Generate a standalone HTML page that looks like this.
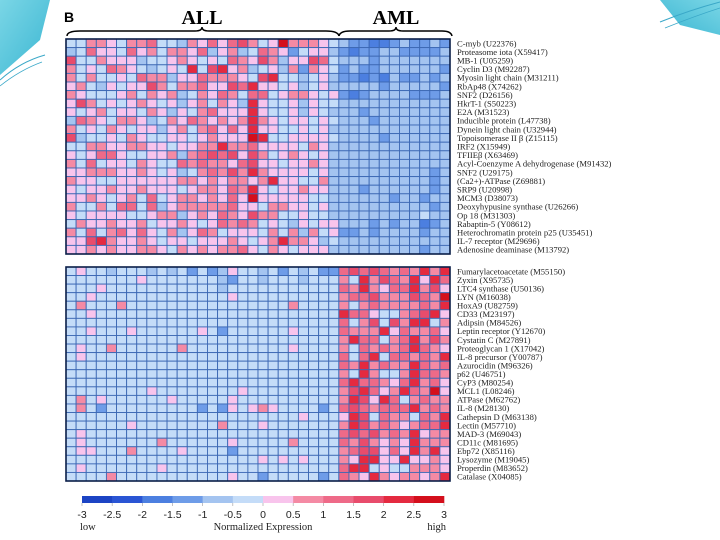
<!DOCTYPE html>
<html><head><meta charset="utf-8"><style>
body{margin:0;background:#fff;width:720px;height:540px;overflow:hidden;font-family:"Liberation Serif",serif}
svg{display:block}
</style></head><body>
<svg id="chart" width="720" height="540">
  <defs>
    <linearGradient id="gl" x1="0" y1="0" x2="1" y2="1"><stop offset="0" stop-color="#7ad6e6"/><stop offset="1" stop-color="#3bb6d2"/></linearGradient>
    <linearGradient id="gr" x1="1" y1="0" x2="0" y2="1"><stop offset="0" stop-color="#7ad6e6"/><stop offset="1" stop-color="#3bb6d2"/></linearGradient>
  </defs>
  <g>
    <polygon points="0,0 50,0 40,40 0,75" fill="url(#gl)"/>
    <path d="M0,80 Q20,62 45,55" stroke="#3aa8c8" fill="none" stroke-width="1"/>
    <path d="M0,86 Q20,70 42,62" stroke="#3aa8c8" fill="none" stroke-width="0.8"/>
  </g>
  <g>
    <polygon points="720,0 660,0 680,25 720,35" fill="url(#gr)"/>
    <path d="M660,22 Q690,10 720,2" stroke="#3aa8c8" fill="none" stroke-width="1"/>
    <path d="M665,28 Q695,16 720,8" stroke="#3aa8c8" fill="none" stroke-width="0.8"/>
  </g>
  <text x="64" y="22" font-family="Liberation Sans, sans-serif" font-weight="bold" font-size="14">B</text>
  <text x="202" y="24" text-anchor="middle" font-weight="bold" font-size="20">ALL</text>
  <text x="396" y="24" text-anchor="middle" font-weight="bold" font-size="20">AML</text>
  <path d="M67,36 Q67,31 80,31 L195,31 Q202,31 202,27 Q202,31 209,31 L326,31 Q338,31 339,36" fill="none" stroke="#000" stroke-width="1.5"/>
  <path d="M339,36 Q340,31 350,31 L389,31 Q396,31 396,27 Q396,31 403,31 L442,31 Q451,31 452,36" fill="none" stroke="#000" stroke-width="1.5"/>
  <g id="cells"></g>
  <g id="labels"></g>
  <g id="cbar"></g>
</svg>
<script>
const topGenes=["C-myb (U22376)","Proteasome iota (X59417)","MB-1 (U05259)","Cyclin D3 (M92287)","Myosin light chain (M31211)","RbAp48 (X74262)","SNF2 (D26156)","HkrT-1 (S50223)","E2A (M31523)","Inducible protein (L47738)","Dynein light chain (U32944)","Topoisomerase II \u03b2 (Z15115)","IRF2 (X15949)","TFIIE\u03b2 (X63469)","Acyl-Coenzyme A dehydrogenase (M91432)","SNF2 (U29175)","(Ca2+)-ATPase (Z69881)","SRP9 (U20998)","MCM3 (D38073)","Deoxyhypusine synthase (U26266)","Op 18 (M31303)","Rabaptin-5 (Y08612)","Heterochromatin protein p25 (U35451)","IL-7 receptor (M29696)","Adenosine deaminase (M13792)"];
const bottomGenes=["Fumarylacetoacetate (M55150)","Zyxin (X95735)","LTC4 synthase (U50136)","LYN (M16038)","HoxA9 (U82759)","CD33 (M23197)","Adipsin (M84526)","Leptin receptor (Y12670)","Cystatin C (M27891)","Proteoglycan 1 (X17042)","IL-8 precursor (Y00787)","Azurocidin (M96326)","p62 (U46751)","CyP3 (M80254)","MCL1 (L08246)","ATPase (M62762)","IL-8 (M28130)","Cathepsin D (M63138)","Lectin (M57710)","MAD-3 (M69043)","CD11c (M81695)","Ebp72 (X85116)","Lysozyme (M19045)","Properdin (M83652)","Catalase (X04085)"];
// level codes 0..B per sample (27 ALL then 11 AML); value = level*0.5 - 2.75
const topRows=[
"557765778554768689756B77765"+"43322343343",
"458665867577684674587635664"+"32334433334",
"955766645567656587697466985"+"44434444444",
"756587654565A59A67456473765"+"34334444443",
"75755658774668777659A554564"+"33232433434",
"675465669757786698A66564564"+"44443444443",
"765556757674576875885677656"+"32344443334",
"697565676564675764A65564655"+"44444444444",
"656756657646578666A65564654"+"44344444444",
"487657764576876767A76566565"+"44434444444",
"756576566467578686A66556564"+"44444444444",
"945565765566567666BA5566665"+"44443444444",
"557766776656677A77866665764"+"44444444444",
"656886556674789896975676564"+"44444444444",
"758566576558787768966566764"+"44444444444",
"667776676564578797A76666564"+"44444444434",
"76655666666776767767A665574"+"44444444434",
"656676676665677687A65667664"+"44344444434",
"667656758567767686B66666554"+"44444344344",
"755758858467777786657766564"+"44444444434",
"656666556774676876977556554"+"44444444544",
"576676675667656878756546566"+"44434344234",
"758578686574687566657574756"+"33434444344",
"669A76676566566676567A7764"+"5"+"44444444444",
"667676677657676778657656664"+"44444444344"];
const bottomRows=[
"565545554545353465545354533"+"89898787A7A",
"555555565555555435545554555"+"75A7987A6A8",
"555655555555555455555555555"+"87A7688A796",
"556555555555555565555555555"+"7889777987B",
"575557555555555555555575555"+"7578777787A",
"556555555555555555555555555"+"A88655789A6",
"555555555555555555555555555"+"8579597AA57",
"556555655555565355555565555"+"8777A687786",
"555555555555555555555555555"+"7A88578A797",
"565575555557555555555565555"+"7587878A876",
"565555555555555555555555555"+"858A588787A",
"555555555555555555555555555"+"87A7877A878",
"555555555555555555555555555"+"75A7557A887",
"555555555555555555555555555"+"8A88768A786",
"555555556555555556555555555"+"79A867A87B6",
"575655555565555565555555555"+"7A96A857877",
"575355555555535365676555535"+"8987888A787",
"555555555555555555555556555"+"6A95877587A",
"555555655555555755565555555"+"7A97876788A",
"565555555555555555555555555"+"8989787A677",
"565555555755555565555575555"+"8797676A777",
"566555755556555535555555555"+"7899686A7A6",
"555555555555555555565656555"+"76AA66A6676",
"565555555655555555555555555"+"8AA56557776",
"555575555555555565535555535"+"876A767767A"];
const tickLabels=["-3","-2.5","-2","-1.5","-1","-0.5","0","0.5","1","1.5","2","2.5","3"];
const palette=["#1c44c4","#2a55d4","#4c7fe0","#6e9ce8","#a4c4f0","#c4dcf8","#f8c4ec","#f48aa4","#ee6a88","#e84c6c","#e42a40","#d40f1c"];

const NS="http://www.w3.org/2000/svg";
const X0=66,X1=450,NC=38;
const cw=(X1-X0)/NC;
const xPos=i=>X0+i*cw;
function toValue(ch){return parseInt(ch,16)*0.5-2.75;}
function color(v){let k=Math.floor((v+3)/0.5);k=Math.max(0,Math.min(11,k));return palette[k];}
function mk(tag,attrs,parent){const e=document.createElementNS(NS,tag);for(const k in attrs)e.setAttribute(k,attrs[k]);parent.appendChild(e);return e;}
const cells=document.getElementById('cells');
const labels=document.getElementById('labels');
function block(rows,genes,y0,y1,name){
  const rh=(y1-y0)/rows.length;
  const g=mk('g',{},cells);
  
  
  rows.forEach((row,r)=>{
    for(let c=0;c<NC;c++){
      const v=toValue(row[c]||'5');
      const rc=mk('rect',{x:xPos(c),y:y0+r*rh,width:cw,height:rh,fill:color(v),stroke:'#3c68b4','stroke-width':0.9},g);
      
      
    }
    const t=mk('text',{x:457,y:y0+r*rh+rh/2+3,'font-size':8.6,fill:'#222','font-family':'Liberation Serif, serif'},labels);
    t.textContent=genes[r];
    
    
  });
  const b=mk('rect',{x:X0,y:y0,width:X1-X0,height:y1-y0,fill:'none',stroke:'#0a1e48','stroke-width':1.6},g);
  
  
}
block(topRows,topGenes,39,254,'all-vs-aml-top-block');
block(bottomRows,bottomGenes,267,481,'all-vs-aml-bottom-block');
// color bar
const cb=document.getElementById('cbar');


const CB0=82,CB1=444,segW=(CB1-CB0)/12;
const cbx=v=>CB0+(v+3)/6*(CB1-CB0);
for(let k=0;k<12;k++){
  const s=mk('rect',{x:CB0+k*segW,y:496,width:segW+0.3,height:7,fill:palette[k]},cb);
  
  
}
tickLabels.forEach(l=>{
  const x=cbx(parseFloat(l));
  mk('line',{x1:x,y1:503,x2:x,y2:506,stroke:'#999','stroke-width':0.6},cb);
  const t=mk('text',{x:x,y:518,'text-anchor':'middle','font-size':10.5,'font-family':'Liberation Sans, sans-serif',fill:'#222'},cb);
  t.textContent=l;
  
  
});
const lo=mk('text',{x:80,y:530,'font-size':10.5,fill:'#222'},cb);lo.textContent='low';


const mid=mk('text',{x:263,y:530,'text-anchor':'middle','font-size':10.5,fill:'#222'},cb);mid.textContent='Normalized Expression';


const hi=mk('text',{x:446,y:530,'text-anchor':'end','font-size':10.5,fill:'#222'},cb);hi.textContent='high';


</script>
</body></html>
